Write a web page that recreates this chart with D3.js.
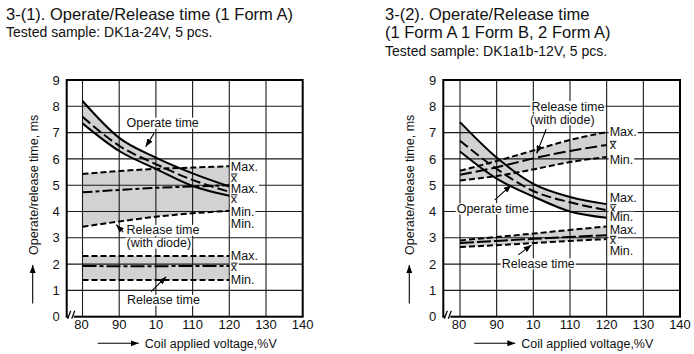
<!DOCTYPE html>
<html><head><meta charset="utf-8">
<script src="https://cdn.jsdelivr.net/npm/d3@7/dist/d3.min.js"></script>
<style>
body{margin:0;background:#fff}
svg{display:block;font-family:"Liberation Sans",Arial,Helvetica,sans-serif}
</style></head><body>
<svg id="c" width="694" height="354"></svg>
<script>
// ---------- data ----------
const voltage = [80, 90, 100, 110, 120];
const xTickValues = [80, 90, 100, 110, 120, 130, 140];
const xTickLabels = ["80", "90", "10", "110", "120", "130", "140"];
const yTickValues = [0, 1, 2, 3, 4, 5, 6, 7, 8, 9];

// Chart 3-(1): 1 Form A, DK1a-24V
const opMax1   = [8.2, 6.8, 6.05, 5.45, 4.95];
const opMean1  = [7.6, 6.5, 5.8, 5.2, 4.75];
const opMin1   = [7.35, 6.3, 5.62, 4.97, 4.6];
const rdMax1   = [5.43, 5.54, 5.62, 5.67, 5.72];
const rdMean1  = [4.73, 4.82, 4.9, 4.95, 5.0];
const rdMin1   = [3.42, 3.62, 3.8, 3.93, 4.03];
const relMax1  = [2.31, 2.31, 2.31, 2.31, 2.31];
const relMean1 = [1.93, 1.92, 1.92, 1.93, 1.93];
const relMin1  = [1.4, 1.4, 1.4, 1.4, 1.4];

// Chart 3-(2): 1 Form A 1 Form B, 2 Form A, DK1a1b-12V
const opMax2   = [7.4, 6.05, 5.05, 4.55, 4.28];
const opMean2  = [6.69, 5.62, 4.78, 4.35, 4.05];
const opMin2   = [6.28, 5.25, 4.57, 4.0, 3.76];
const rdMax2   = [5.55, 5.92, 6.32, 6.72, 7.02];
const rdMean2  = [5.4, 5.68, 6.02, 6.3, 6.53];
const rdMin2   = [5.18, 5.35, 5.6, 5.88, 6.07];
const relMax2  = [2.9, 3.03, 3.16, 3.3, 3.43];
const relMean2 = [2.8, 2.88, 2.96, 3.03, 3.1];
const relMin2  = [2.65, 2.72, 2.8, 2.88, 2.95];

// end-of-line labels: [text, y value]  ("x" is drawn as x-bar, the mean)
const endLabels1 = [["Max.",5.72],["x",5.29],["Max.",4.87],["x",4.5],["Min.",3.99],["Min.",3.54],["Max.",2.32],["x",1.9],["Min.",1.4]];
const endLabels2 = [["Max.",7.03],["x",6.53],["Min.",5.98],["Max.",4.52],["x",4.12],["Min.",3.8],["Max.",3.32],["x",2.92],["Min.",2.52]];

// annotations: [text, x value, y value]
const notes1 = [["Operate time",92.0,7.38],["Release time",92.0,3.3],["(with diode)",92.0,2.82],["Release time",92.1,0.64]];
const arrows1 = [[99.5,6.97,97.2,6.46],[91.1,3.22,89.2,3.5],[98.7,0.95,102.8,1.52]];
const notes2 = [["Release time",99.5,8.01],["(with diode)",99.1,7.51],["Operate time",79.1,4.12],["Release time",91.4,2.03]];
const arrows2 = [[103.5,7.13,100.9,6.21],[89.5,4.44,94.0,5.01],[95.9,2.35,99.5,2.73]];

const titles1 = [["3-(1). Operate/Release time (1 Form A)",16.5,20],["Tested sample: DK1a-24V, 5 pcs.",14,37]];
const titles2 = [["3-(2). Operate/Release time",16.5,20],["(1 Form A 1 Form B, 2 Form A)",16.5,38],["Tested sample: DK1a1b-12V, 5 pcs.",14,56]];

const yTitle = "Operate/release time, ms";
const xTitle = "Coil applied voltage,%V";

// ---------- drawing ----------
const svg = d3.select("#c");
const defs = svg.append("defs");
defs.append("marker").attr("id","ah").attr("viewBox","0 0 8 6").attr("refX",8).attr("refY",3)
  .attr("markerWidth",8).attr("markerHeight",6).attr("markerUnits","userSpaceOnUse").attr("orient","auto")
  .append("path").attr("d","M0,0L8,3L0,6z").attr("fill","#000");

function drawChart(cfg){
  const g = svg.append("g");
  const x = d3.scaleLinear().domain([80,140]).range([cfg.x80, cfg.x140]);
  const y = d3.scaleLinear().domain([0,9]).range([316.7, 80]);
  const L = cfg.axisLeft, R = x(140), T = y(9), B = y(0);

  cfg.titles.forEach(t=>{
    g.append("text").attr("x",cfg.titleX).attr("y",t[2]).attr("font-size",t[1]).attr("fill","#111").text(t[0]);
  });

  const pts = arr => arr.map((v,i)=>({v:voltage[i], y:v}));
  const band = (mx,mn) => {
    const d = voltage.map((v,i)=>({v, hi:mx[i], lo:mn[i]}));
    g.append("path").datum(d).attr("fill","#d2d2d2")
      .attr("d", d3.area().x(p=>x(p.v)).y0(p=>y(p.lo)).y1(p=>y(p.hi)).curve(d3.curveMonotoneX));
  };
  cfg.bands.forEach(b=>band(b[0],b[1]));

  const grid = g.append("g").attr("stroke","#1a1a1a").attr("stroke-width",1.1);
  yTickValues.filter(v=>v>0 && v<9).forEach(v=>{
    grid.append("line").attr("x1",L).attr("x2",R).attr("y1",y(v)).attr("y2",y(v));
  });
  xTickValues.filter(v=>v<140).forEach(v=>{
    grid.append("line").attr("x1",x(v)).attr("x2",x(v)).attr("y1",T).attr("y2",B);
  });

  const line = d3.line().x(p=>x(p.v)).y(p=>y(p.y)).curve(d3.curveMonotoneX);
  cfg.lines.forEach(s=>{
    g.append("path").datum(pts(s[0])).attr("fill","none").attr("stroke","#000")
      .attr("stroke-width",s[2]||2).attr("stroke-dasharray",s[1]).attr("d",line);
  });

  g.append("rect").attr("x",L).attr("y",T).attr("width",R-L).attr("height",B-T)
    .attr("fill","none").attr("stroke","#000").attr("stroke-width",2);

  g.append("rect").attr("x",L+2).attr("y",B-2).attr("width",5).attr("height",4).attr("fill","#fff");
  g.append("path").attr("d",`M${L+1},${B+2}L${L+4},${B-6}M${L+5},${B+2}L${L+8},${B-6}`)
    .attr("stroke","#000").attr("stroke-width",1.2).attr("fill","none");

  yTickValues.forEach(v=>{
    g.append("text").attr("x",L-7).attr("y",y(v)).attr("dy","0.36em").attr("text-anchor","end")
      .attr("font-size",13).attr("fill","#111").text(v);
  });
  xTickValues.forEach((v,i)=>{
    g.append("text").attr("x",x(v)+(i===0?-1:0)).attr("y",328.5).attr("text-anchor","middle")
      .attr("font-size",13).attr("fill","#111").text(xTickLabels[i]);
  });

  const bgText = (txt,tx,ty,anchor,over) => {
    const grp = g.append("g");
    const t = grp.append("text").attr("x",tx).attr("y",ty).attr("dy","0.36em")
      .attr("text-anchor",anchor).attr("font-size",12.5).attr("fill","#111").text(txt);
    const bb = t.node().getBBox();
    grp.insert("rect","text").attr("x",bb.x-1).attr("y",bb.y+1.5).attr("width",bb.width+2)
      .attr("height",bb.height-3).attr("fill","#fff");
    if(over){
      grp.append("line").attr("x1",bb.x+0.3).attr("x2",bb.x+bb.width-0.3)
        .attr("y1",ty-3.6).attr("y2",ty-3.6).attr("stroke","#111").attr("stroke-width",1);
    }
  };
  cfg.endLabels.forEach(l=>bgText(l[0], x(120)+cfg.labelDx, y(l[1]), "start", l[0]==="x"));
  cfg.notes.forEach(n=>bgText(n[0], x(n[1]), y(n[2]), "start", false));
  cfg.arrows.forEach(a=>{
    g.append("line").attr("x1",x(a[0])).attr("y1",y(a[1])).attr("x2",x(a[2])).attr("y2",y(a[3]))
      .attr("stroke","#000").attr("stroke-width",1.1).attr("marker-end","url(#ah)");
  });

  g.append("text").attr("transform",`translate(${L-29},255) rotate(-90)`).attr("font-size",12.5)
    .attr("fill","#111").text(yTitle);
  g.append("line").attr("x1",L-34).attr("x2",L-34).attr("y1",303.5).attr("y2",265)
    .attr("stroke","#000").attr("stroke-width",1.1).attr("marker-end","url(#ah)");
  g.append("line").attr("x1",L+31).attr("x2",L+72).attr("y1",343.3).attr("y2",343.3)
    .attr("stroke","#000").attr("stroke-width",1.1).attr("marker-end","url(#ah)");
  g.append("text").attr("x",L+78).attr("y",343.3).attr("dy","0.36em").attr("font-size",12.5)
    .attr("fill","#111").text(xTitle);
}

const solid = null, meanDash = "10,4", minmaxDash = "6,3";
drawChart({
  titleX: 6, titles: titles1, axisLeft: 66.7, x80: 82.5, x140: 302.7, labelDx: 1.5,
  bands: [[opMax1,opMin1],[rdMax1,rdMin1],[relMax1,relMin1]],
  lines: [[opMax1,solid],[opMin1,solid],[opMean1,meanDash],
          [rdMax1,minmaxDash],[rdMin1,minmaxDash],[rdMean1,"10,3,4,3"],
          [relMax1,minmaxDash],[relMin1,minmaxDash],[relMean1,"14,3,4,3"]],
  endLabels: endLabels1, notes: notes1, arrows: arrows1
});
drawChart({
  titleX: 385, titles: titles2, axisLeft: 443.3, x80: 460, x140: 680, labelDx: 3,
  bands: [[opMax2,opMin2],[rdMax2,rdMin2],[relMax2,relMin2]],
  lines: [[opMax2,solid],[opMin2,solid],[opMean2,meanDash],
          [rdMax2,minmaxDash],[rdMin2,minmaxDash],[rdMean2,"12,4"],
          [relMax2,minmaxDash],[relMin2,minmaxDash],[relMean2,"14,3"]],
  endLabels: endLabels2, notes: notes2, arrows: arrows2
});
</script>
</body></html>
